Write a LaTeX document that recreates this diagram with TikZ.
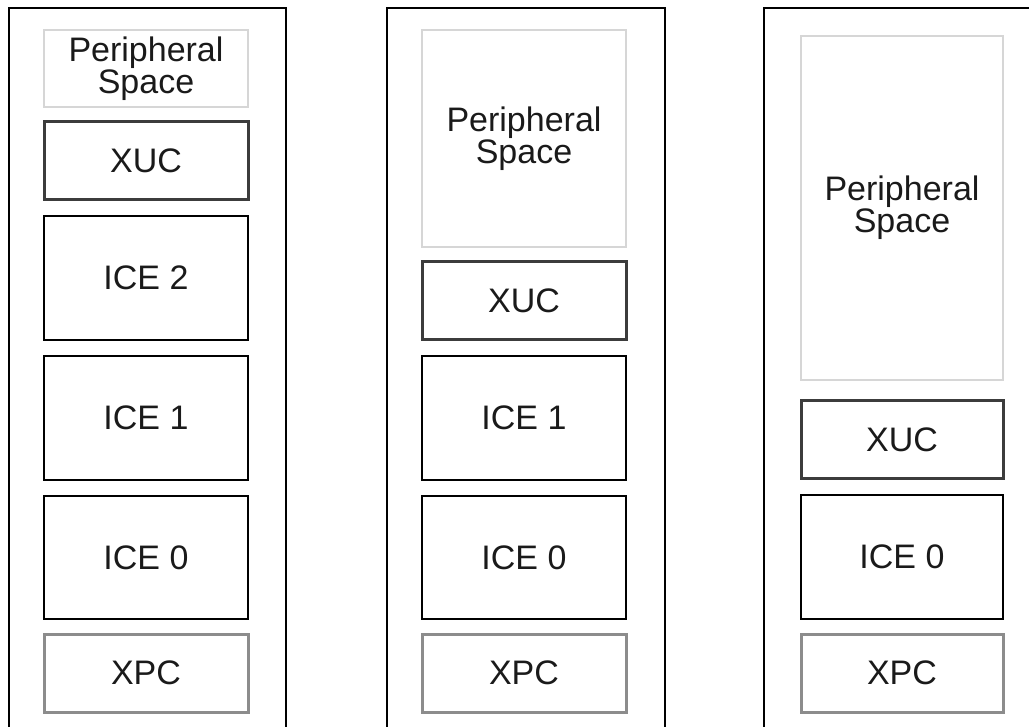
\documentclass[tikz,border=0pt]{standalone}
\usepackage{fontspec}
\setmainfont{Liberation Sans}
\usepackage{tikz}

\definecolor{perigray}{HTML}{D6D6D6}
\definecolor{xucgray}{HTML}{3C3C3C}
\definecolor{xpcgray}{HTML}{8C8C8C}
\definecolor{textgray}{HTML}{1A1A1A}

\tikzset{
  blk/.style={draw, inner sep=0pt, minimum width=204pt, align=center, text=textgray,
    font=\fontsize{34}{30}\selectfont},
  peri/.style={blk, draw=perigray, line width=2.5pt},
  xuc/.style={blk, draw=xucgray, line width=3pt, minimum height=78pt},
  ice/.style={blk, draw=black, line width=2pt, minimum height=124pt},
  xpc/.style={blk, draw=xpcgray, line width=3pt, minimum height=78pt},
  frame/.style={draw=black, line width=2pt}
}

\begin{document}
\begin{tikzpicture}[x=1pt,y=-1pt]
\useasboundingbox (0,0) rectangle (1029,727);

% outer frames
\draw[frame] (9,730) |- (286,8) -- (286,730);
\draw[frame] (387,730) |- (665,8) -- (665,730);
\draw[frame] (764,730) |- (1032,8);

% left column
\node[peri, minimum height=77pt] (periA) at (146,68.5) {Peripheral\\Space};
\node[xuc] (xucA) at (146,161) {XUC};
\node[ice] (iceTwoA) at (146,278) {ICE 2};
\node[ice] (iceOneA) at (146,418) {ICE 1};
\node[ice, minimum height=123pt] (iceZeroA) at (146,557.5) {ICE 0};
\node[xpc] (xpcA) at (146,673) {XPC};

% middle column
\node[peri, minimum height=217pt] (periB) at (524,138.5) {Peripheral\\Space};
\node[xuc] (xucB) at (524,301) {XUC};
\node[ice] (iceOneB) at (524,418) {ICE 1};
\node[ice, minimum height=123pt] (iceZeroB) at (524,557.5) {ICE 0};
\node[xpc] (xpcB) at (524,673) {XPC};

% right column
\node[peri, minimum width=202pt, minimum height=344pt] (periC) at (902,208) {Peripheral\\Space};
\node[xuc, minimum width=202pt, minimum height=77pt] (xucC) at (902,439.5) {XUC};
\node[ice, minimum width=202pt] (iceZeroC) at (902,557) {ICE 0};
\node[xpc, minimum width=202pt] (xpcC) at (902,673) {XPC};
\end{tikzpicture}
\end{document}
